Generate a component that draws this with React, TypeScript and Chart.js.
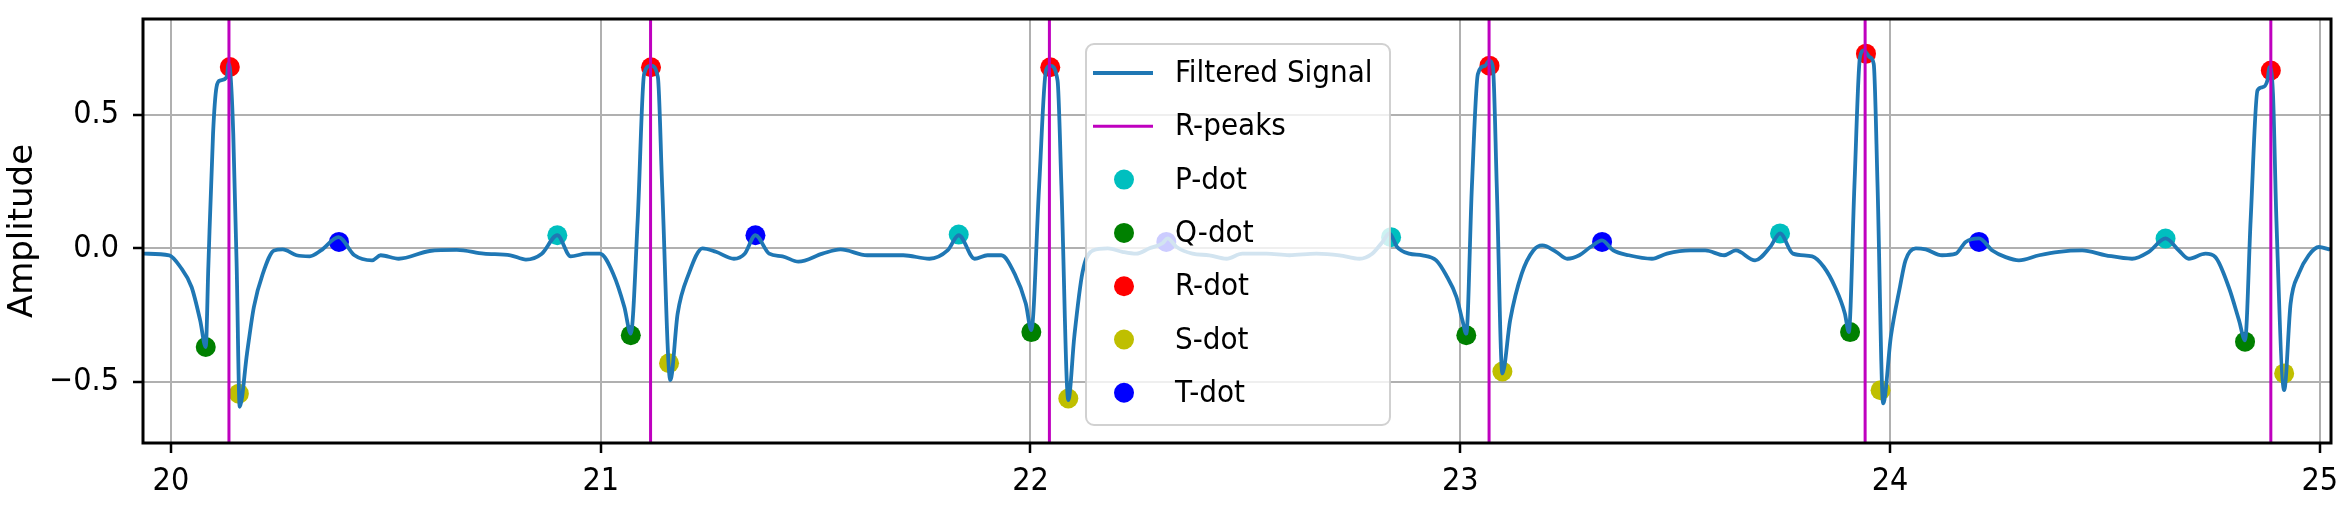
import { useEffect, useRef } from 'react';
import { Chart, registerables } from 'chart.js';

Chart.register(...registerables);

// ---- data ----
const TIME = [
  19.939, 19.996, 20.022, 20.048, 20.068, 20.081, 20.087, 20.098, 20.106, 20.114, 20.13, 20.134, 20.139, 20.145, 20.153, 20.16,
  20.177, 20.193, 20.214, 20.24, 20.26, 20.292, 20.323, 20.349, 20.39, 20.427, 20.468, 20.488, 20.53, 20.602, 20.665, 20.728,
  20.79, 20.826, 20.863, 20.899, 20.93, 20.967, 20.998, 21.029, 21.055, 21.07, 21.086, 21.101, 21.117, 21.133, 21.143, 21.162,
  21.179, 21.205, 21.237, 21.268, 21.31, 21.335, 21.36, 21.392, 21.423, 21.46, 21.516, 21.558, 21.62, 21.704, 21.765, 21.807,
  21.833, 21.87, 21.9, 21.932, 21.963, 21.989, 22.002, 22.02, 22.036, 22.046, 22.063, 22.072, 22.088, 22.102, 22.121, 22.145,
  22.18, 22.214, 22.246, 22.277, 22.307, 22.319, 22.34, 22.377, 22.416, 22.456, 22.493, 22.549, 22.602, 22.665, 22.719, 22.765,
  22.795, 22.819, 22.835, 22.853, 22.881, 22.912, 22.944, 22.967, 22.991, 23.005, 23.014, 23.027, 23.041, 23.058, 23.067, 23.076,
  23.085, 23.098, 23.116, 23.143, 23.17, 23.191, 23.223, 23.249, 23.277, 23.303, 23.33, 23.356, 23.392, 23.446, 23.481, 23.535,
  23.57, 23.614, 23.641, 23.686, 23.721, 23.744, 23.774, 23.819, 23.846, 23.872, 23.895, 23.904, 23.917, 23.93, 23.939, 23.953,
  23.962, 23.971, 23.984, 24.002, 24.023, 24.036, 24.06, 24.083, 24.121, 24.153, 24.176, 24.207, 24.238, 24.269, 24.3, 24.347,
  24.393, 24.447, 24.502, 24.563, 24.602, 24.641, 24.672, 24.695, 24.734, 24.757, 24.788, 24.812, 24.826, 24.839, 24.855, 24.866,
  24.878, 24.883, 24.891, 24.899, 24.917, 24.932, 24.951, 24.974, 24.998, 25.021,
];
const AMPLITUDE = [
  -0.02, -0.026, -0.07, -0.145, -0.27, -0.37, -0.07, 0.43, 0.604, 0.629, 0.642, 0.693, 0.642, 0.43, -0.07, -0.594,
  -0.394, -0.22, -0.094, -0.008, -0.004, -0.026, -0.03, -0.008, 0.042, -0.026, -0.045, -0.026, -0.039, -0.01, -0.006, -0.02,
  -0.026, -0.042, -0.02, 0.049, -0.03, -0.02, -0.02, -0.095, -0.22, -0.32, 0.105, 0.654, 0.685, 0.642, 0.23, -0.494,
  -0.245, -0.095, 0.0, -0.013, -0.039, -0.02, 0.049, -0.02, -0.03, -0.05, -0.02, -0.004, -0.026, -0.026, -0.039, -0.008,
  0.049, -0.039, -0.026, -0.026, -0.095, -0.207, -0.307, 0.23, 0.667, 0.685, 0.629, 0.23, -0.569, -0.33, -0.09, -0.008,
  0.0, -0.013, -0.02, 0.0, 0.019, 0.037, 0.005, -0.02, -0.026, -0.039, -0.02, -0.02, -0.026, -0.02, -0.026, -0.039,
  -0.02, 0.024, 0.056, 0.005, -0.02, -0.026, -0.045, -0.1, -0.182, -0.27, -0.32, 0.23, 0.654, 0.685, 0.704, 0.679,
  0.23, -0.469, -0.27, -0.095, -0.008, 0.011, -0.013, -0.039, -0.026, 0.005, 0.03, -0.008, -0.026, -0.039, -0.02, -0.008,
  -0.008, -0.026, -0.008, -0.045, 0.005, 0.056, -0.02, -0.03, -0.07, -0.145, -0.245, -0.314, 0.23, 0.717, 0.742, 0.717,
  0.692, 0.23, -0.581, -0.33, -0.145, -0.045, 0.0, -0.004, -0.026, -0.02, 0.024, 0.037, -0.008, -0.033, -0.045, -0.026,
  -0.013, -0.008, -0.026, -0.039, -0.013, 0.037, -0.008, -0.039, -0.02, -0.033, -0.145, -0.27, -0.345, 0.105, 0.592, 0.604,
  0.629, 0.679, 0.579, 0.105, -0.532, -0.207, -0.095, -0.026, 0.005, -0.004,
];

const R_PEAKS = [20.135, 21.116, 22.044, 23.067, 23.942, 24.886];

const P_TIME = [20.899, 21.833, 22.839, 23.744, 24.641];
const P_AMP = [0.049, 0.052, 0.042, 0.056, 0.037];
const Q_TIME = [20.081, 21.07, 22.002, 23.014, 23.907, 24.826];
const Q_AMP = [-0.37, -0.326, -0.314, -0.326, -0.314, -0.35];
const R_TIME = [20.137, 21.117, 22.046, 23.068, 23.944, 24.886];
const R_AMP = [0.68, 0.679, 0.679, 0.685, 0.73, 0.667];
const S_TIME = [20.158, 21.159, 22.088, 23.098, 23.978, 24.917];
const S_AMP = [-0.545, -0.431, -0.563, -0.462, -0.532, -0.469];
const T_TIME = [20.391, 21.36, 22.316, 23.33, 24.207];
const T_AMP = [0.024, 0.049, 0.024, 0.024, 0.024];

const X_TICKS = [20, 21, 22, 23, 24, 25];
const Y_TICKS = [-0.5, 0, 0.5];
const X_MIN = 19.935;
const X_MAX = 25.026;
const Y_MIN = -0.73;
const Y_MAX = 0.86;

// ---- styling ----
const CONDENSED = "'DejaVu Sans Condensed', 'DejaVu Sans', sans-serif";
const REGULAR = "'DejaVu Sans', sans-serif";

const pts = (xs: number[], ys: number[]) => xs.map((x, i) => ({ x, y: ys[i] }));

const frontFrame = {
  id: 'frontFrame',
  afterDatasetsDraw(chart: any) {
    const { ctx, chartArea: a } = chart;
    ctx.save();
    ctx.strokeStyle = '#000000';
    ctx.lineWidth = 3;
    ctx.strokeRect(a.left, a.top, a.right - a.left, a.bottom - a.top);
    ctx.restore();
  },
};

const boxLegend = {
  id: 'boxLegend',
  afterDraw(chart: any) {
    const { ctx, chartArea: a } = chart;
    const left = a.left + 943;
    const top = a.top + 25;
    const w = 304;
    const h = 381;
    ctx.save();
    ctx.beginPath();
    ctx.roundRect(left, top, w, h, 8);
    ctx.fillStyle = 'rgba(255,255,255,0.8)';
    ctx.fill();
    ctx.lineWidth = 2;
    ctx.strokeStyle = 'rgba(204,204,204,0.9)';
    ctx.stroke();
    ctx.font = `31px ${CONDENSED}`;
    ctx.textBaseline = 'middle';
    ctx.textAlign = 'left';
    chart.data.datasets.forEach((ds: any, i: number) => {
      const cy = top + 29 + i * 53.3;
      if (ds.showLine) {
        ctx.beginPath();
        ctx.moveTo(left + 7, cy);
        ctx.lineTo(left + 67, cy);
        ctx.strokeStyle = ds.borderColor;
        ctx.lineWidth = ds.borderWidth;
        ctx.stroke();
      } else {
        ctx.beginPath();
        ctx.arc(left + 38, cy, 10, 0, Math.PI * 2);
        ctx.fillStyle = ds.backgroundColor;
        ctx.fill();
      }
      ctx.fillStyle = '#000000';
      ctx.fillText(ds.label, left + 89, cy + 1);
    });
    ctx.restore();
  },
};

function dots(label: string, color: string, xs: number[], ys: number[]) {
  return {
    label,
    data: pts(xs, ys),
    showLine: false,
    pointRadius: 10,
    pointHoverRadius: 10,
    pointBackgroundColor: color,
    pointBorderWidth: 0,
    backgroundColor: color,
    borderColor: color,
    order: 2,
  };
}

export default function App() {
  const ref = useRef<HTMLCanvasElement | null>(null);

  useEffect(() => {
    document.body.style.margin = '0';
    document.body.style.overflow = 'hidden';
    const canvas = ref.current;
    if (!canvas) return;

    const peakData: any[] = [];
    R_PEAKS.forEach((p) => {
      peakData.push({ x: p, y: Y_MIN }, { x: p, y: Y_MAX }, { x: p, y: null });
    });

    const chart = new Chart(canvas, {
      type: 'scatter',
      data: {
        datasets: [
          {
            label: 'Filtered Signal',
            data: pts(TIME, AMPLITUDE),
            showLine: true,
            borderColor: '#1f77b4',
            backgroundColor: '#1f77b4',
            borderWidth: 3.8,
            borderJoinStyle: 'round',
            borderCapStyle: 'round',
            pointRadius: 0,
            pointHoverRadius: 0,
            cubicInterpolationMode: 'monotone',
            order: 1,
          },
          {
            label: 'R-peaks',
            data: peakData,
            showLine: true,
            spanGaps: false,
            borderColor: '#bf00bf',
            backgroundColor: '#bf00bf',
            borderWidth: 3,
            pointRadius: 0,
            pointHoverRadius: 0,
            order: 0,
          },
          dots('P-dot', '#00bfbf', P_TIME, P_AMP),
          dots('Q-dot', '#008000', Q_TIME, Q_AMP),
          dots('R-dot', '#ff0000', R_TIME, R_AMP),
          dots('S-dot', '#bfbf00', S_TIME, S_AMP),
          dots('T-dot', '#0000ff', T_TIME, T_AMP),
        ] as any,
      },
      options: {
        animation: false,
        responsive: false,
        maintainAspectRatio: false,
        devicePixelRatio: 1,
        layout: { padding: { left: 0, top: 19, right: 9, bottom: 0 } },
        plugins: {
          legend: { display: false },
          tooltip: { enabled: false },
        },
        scales: {
          x: {
            type: 'linear',
            min: X_MIN,
            max: X_MAX,
            afterBuildTicks: (s: any) => {
              s.ticks = X_TICKS.map((v) => ({ value: v }));
            },
            afterFit: (s: any) => {
              s.height = 66;
              s.paddingLeft = 0;
              s.paddingRight = 0;
            },
            ticks: {
              color: '#000000',
              font: { size: 32, family: CONDENSED },
              padding: 9,
              maxRotation: 0,
              autoSkip: false,
              callback: (v: any) => String(v),
            },
            grid: {
              color: '#b0b0b0',
              lineWidth: 2,
              tickColor: '#000000',
              tickLength: 10,
              tickWidth: 2.5,
            },
            border: { display: false },
          },
          y: {
            type: 'linear',
            min: Y_MIN,
            max: Y_MAX,
            afterBuildTicks: (s: any) => {
              s.ticks = Y_TICKS.map((v) => ({ value: v }));
            },
            afterFit: (s: any) => {
              s.width = 143;
              s.paddingTop = 0;
              s.paddingBottom = 0;
            },
            ticks: {
              color: '#000000',
              font: { size: 32, family: CONDENSED },
              padding: 14,
              callback: (v: any) => {
                const n = Number(v);
                return (n < 0 ? '\u2212' : '') + Math.abs(n).toFixed(1);
              },
            },
            grid: {
              color: '#b0b0b0',
              lineWidth: 2,
              tickColor: '#000000',
              tickLength: 10,
              tickWidth: 2.5,
            },
            border: { display: false },
            title: {
              display: true,
              text: 'Amplitude',
              color: '#000000',
              font: { size: 34, family: REGULAR, lineHeight: 1.2 },
              padding: { top: 3, bottom: 0 },
            },
          },
        },
      },
      plugins: [frontFrame, boxLegend],
    });

    return () => chart.destroy();
  }, []);

  return (
    <div style={{ width: 2341, height: 509 }}>
      <canvas ref={ref} width={2341} height={509} style={{ display: 'block' }} />
    </div>
  );
}
